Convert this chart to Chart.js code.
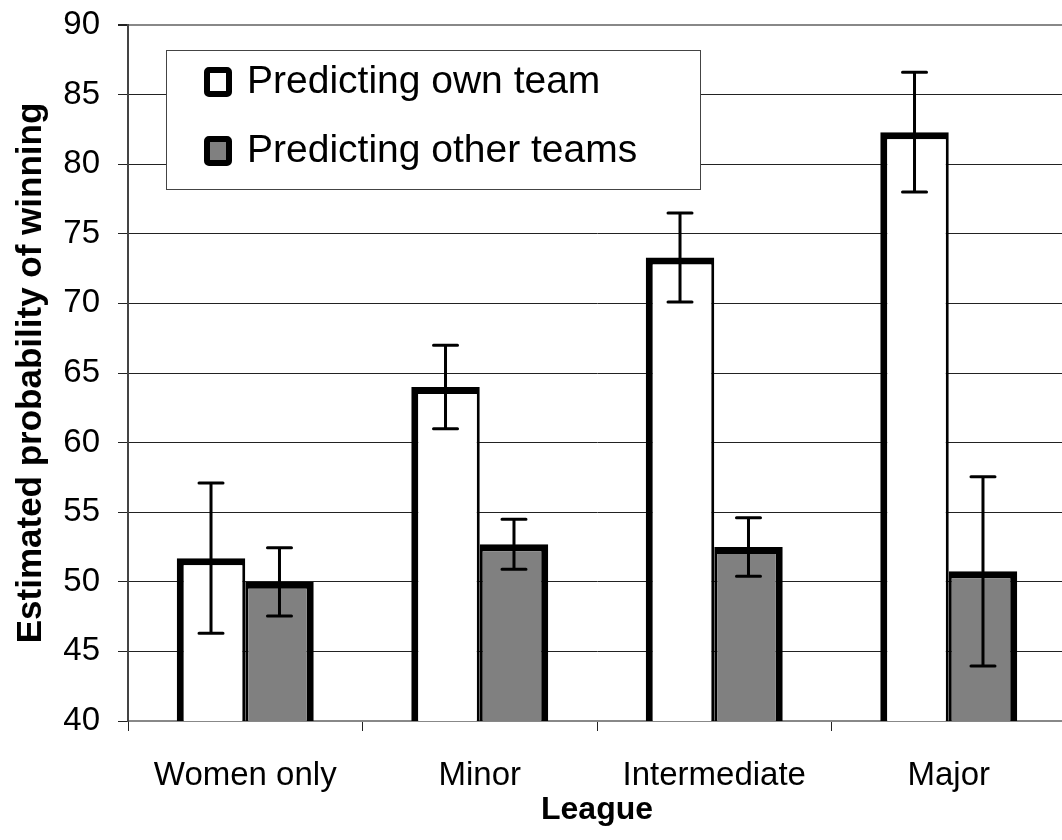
<!DOCTYPE html>
<html>
<head>
<meta charset="utf-8">
<script src="https://cdn.jsdelivr.net/npm/chart.js@4"></script>
<style>
  html, body { margin: 0; padding: 0; background: #fff; overflow: hidden; }
  canvas { display: block; }
</style>
</head>
<body>
<canvas id="chart" width="1070" height="840"></canvas>
<script>
// data
const leagues = ["Women only", "Minor", "Intermediate", "Major"];
const ownTeam = [51.7, 64.0, 73.3, 82.3];
const ownTeamErr = [5.4, 3.0, 3.2, 4.3];
const otherTeams = [50.0, 52.7, 52.5, 50.75];
const otherTeamsErr = [2.45, 1.8, 2.1, 6.8];
const seriesNames = ["Predicting own team", "Predicting other teams"];
const yMin = 40, yMax = 90, yStep = 5;

const FONT = '"Liberation Sans", Arial, sans-serif';

// error bars drawn on top of the bars
const errorBars = {
  id: "errorBars",
  afterDatasetsDraw(chart) {
    const ctx = chart.ctx;
    const y = chart.scales.y;
    chart.data.datasets.forEach((ds, d) => {
      const meta = chart.getDatasetMeta(d);
      meta.data.forEach((bar, i) => {
        const v = ds.data[i], e = ds.errors[i];
        const top = y.getPixelForValue(v + e);
        const bot = y.getPixelForValue(v - e);
        ctx.save();
        ctx.strokeStyle = "#000";
        ctx.lineWidth = 3;
        ctx.lineCap = "round";
        ctx.beginPath();
        ctx.moveTo(bar.x, top); ctx.lineTo(bar.x, bot);
        ctx.moveTo(bar.x - 12, top); ctx.lineTo(bar.x + 12, top);
        ctx.moveTo(bar.x - 12, bot); ctx.lineTo(bar.x + 12, bot);
        ctx.stroke();
        ctx.restore();
      });
    });
  }
};

// boxed legend inside the plot, like the original
const boxLegend = {
  id: "boxLegend",
  afterDraw(chart) {
    const ctx = chart.ctx;
    ctx.save();
    ctx.fillStyle = "#fff";
    ctx.fillRect(166, 50, 534, 139);
    ctx.strokeStyle = "#444";
    ctx.lineWidth = 1;
    ctx.strokeRect(166.5, 50.5, 534, 139);
    const rows = [82, 151];
    chart.data.datasets.forEach((ds, d) => {
      const cy = rows[d];
      ctx.beginPath();
      ctx.roundRect(207, cy - 12, 22, 24, 2);
      ctx.fillStyle = ds.backgroundColor;
      ctx.fill();
      ctx.lineWidth = 6;
      ctx.strokeStyle = "#000";
      ctx.stroke();
      ctx.fillStyle = "#000";
      ctx.font = "39px " + FONT;
      ctx.textBaseline = "middle";
      ctx.textAlign = "left";
      ctx.fillText(ds.label, 247, cy);
    });
    ctx.restore();
  }
};

new Chart(document.getElementById("chart"), {
  type: "bar",
  data: {
    labels: leagues,
    datasets: [
      {
        label: seriesNames[0],
        data: ownTeam,
        errors: ownTeamErr,
        backgroundColor: "#ffffff",
        borderColor: "#000000",
        borderWidth: { top: 7, left: 7, bottom: 6, right: 3 },
        borderSkipped: false,
      },
      {
        label: seriesNames[1],
        data: otherTeams,
        errors: otherTeamsErr,
        backgroundColor: "#808080",
        borderColor: "#000000",
        borderWidth: { top: 7, left: 3, bottom: 6, right: 7 },
        borderSkipped: false,
      },
    ],
  },
  options: {
    responsive: false,
    animation: false,
    devicePixelRatio: 1,
    layout: { padding: { top: 25, right: 4, bottom: 0, left: 0 } },
    datasets: {
      bar: { categoryPercentage: 0.584, barPercentage: 1.0 },
    },
    plugins: {
      legend: { display: false },
      tooltip: { enabled: false },
    },
    scales: {
      x: {
        offset: true,
        grid: {
          offset: true,
          drawOnChartArea: false,
          drawTicks: true,
          tickLength: 10,
          tickColor: "#222",
          tickWidth: 1,
        },
        border: { color: "#888", width: 2 },
        ticks: {
          color: "#000",
          padding: 25,
          font: { family: FONT, size: 33 },
        },
        title: {
          display: true,
          text: "League",
          color: "#000",
          padding: { top: 0, bottom: 11 },
          font: { family: FONT, size: 32, weight: "bold" },
        },
        afterFit(scale) {
          scale.height = 119;
          scale.paddingLeft = 0;
          scale.paddingRight = 0;
        },
      },
      y: {
        min: yMin,
        max: yMax,
        grid: {
          color: (c) => (c.tick && c.tick.value === yMax ? "#888" : "#222"),
          lineWidth: (c) => (c.tick && c.tick.value === yMax ? 2 : 1),
          drawTicks: true,
          tickLength: 10,
          tickColor: "#222",
        },
        border: { color: "#444", width: 2 },
        ticks: {
          stepSize: yStep,
          color: "#000",
          padding: 18,
          font: { family: FONT, size: 33 },
        },
        title: {
          display: true,
          text: "Estimated probability of winning",
          color: "#000",
          padding: { top: 10, bottom: 0 },
          font: { family: FONT, size: 35, weight: "bold" },
        },
        afterFit(scale) {
          scale.width = 128;
          scale.paddingTop = 0;
          scale.paddingBottom = 0;
        },
      },
    },
  },
  plugins: [errorBars, boxLegend],
});
</script>
</body>
</html>
